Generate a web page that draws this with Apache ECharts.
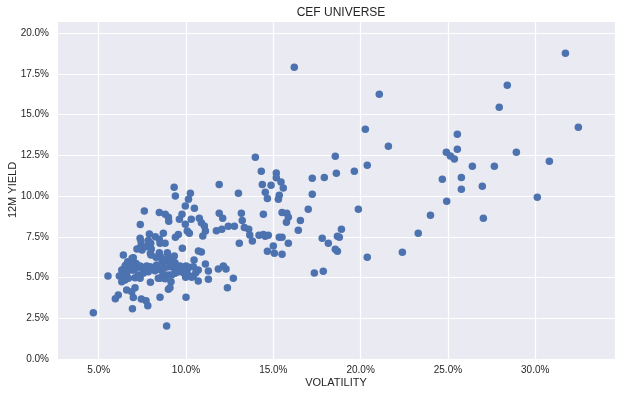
<!DOCTYPE html>
<html>
<head>
<meta charset="utf-8">
<script src="https://cdn.jsdelivr.net/npm/echarts@6/dist/echarts.min.js"></script>
<style>
html,body{margin:0;padding:0;background:#fff;}
#chart{width:621px;height:395px;}
</style>
</head>
<body>
<div id="chart"></div>
<script>
// Volatility (%) and 12M yield (%) per closed-end fund
const volatility = [
16.20,21.07,20.27,21.59,13.97,18.55,20.38,14.31,15.17,15.17,18.61,19.64,17.23,17.92,15.44,14.37,14.87,15.57,11.90,14.54,
15.34,15.29,14.66,13.00,17.23,19.87,17.00,13.17,14.43,15.50,15.77,15.86,15.75,16.55,13.22,11.90,12.10,12.42,12.77,12.05,
13.34,13.59,13.65,13.80,13.05,14.18,14.43,14.71,14.54,15.34,15.50,15.86,15.00,14.66,15.06,15.50,16.43,17.80,18.15,18.90,
18.67,18.78,18.55,18.67,20.38,22.39,23.30,17.35,17.86,12.71,12.37,
31.73,28.40,27.94,32.47,25.54,25.54,24.91,25.14,25.37,28.92,30.81,26.40,27.66,25.77,24.68,26.97,25.77,24.93,30.12,24.00,27.03,
9.32,9.39,10.25,10.14,9.96,10.48,7.61,8.47,8.81,8.99,9.01,9.77,9.62,10.30,9.96,10.76,10.88,11.05,7.38,11.11,
10.96,11.74,10.07,10.19,9.56,9.39,8.70,7.90,8.24,8.47,8.80,7.37,7.42,7.42,7.19,7.48,7.69,7.96,8.01,8.47,
8.57,8.93,8.99,9.33,9.79,10.71,10.88,10.46,11.11,12.14,11.85,12.29,11.28,11.28,9.66,10.00,9.79,10.07,9.98,10.70,
10.42,9.18,9.37,9.14,8.99,8.51,8.67,8.51,10.00,8.89,7.96,7.75,7.94,8.17,8.32,8.51,7.48,7.29,7.02,7.33,
7.08,7.37,6.41,6.56,6.66,6.83,6.98,7.14,6.41,6.91,6.79,6.60,6.37,6.18,6.51,6.32,5.53,6.60,7.08,6.89,
6.12,5.95,6.98,7.44,7.71,7.81,6.93,4.69,7.84,7.98,8.51,7.99,8.28,8.85,8.70,9.12,9.37,10.17,10.70,10.42,
8.61,6.51,6.32,6.60,6.89,7.75,8.41,8.76,9.08,9.47,7.27,7.55,7.84,8.22,8.99,9.37,6.70,7.37,8.41,8.80,
9.08,9.56,9.85,10.56,10.33
];
const yield12m = [
17.91,16.25,14.10,13.06,12.38,12.44,11.89,11.52,11.42,11.13,11.40,11.52,11.09,11.15,10.87,10.72,10.66,10.50,10.72,10.23,
10.05,9.80,9.86,10.17,10.11,9.19,9.19,8.94,8.88,9.00,8.94,8.70,8.39,8.51,8.51,8.94,8.64,8.15,8.15,7.96,
8.08,7.96,7.61,7.24,7.10,7.59,7.65,7.59,7.53,7.47,7.47,7.10,6.94,6.61,6.49,6.43,7.90,7.41,7.10,7.96,
7.53,7.47,6.73,6.61,6.24,6.55,7.72,5.28,5.38,4.95,4.38,
18.77,16.80,15.45,14.22,13.79,12.87,12.69,12.46,12.28,12.69,12.14,11.83,11.83,11.15,11.03,10.60,10.42,9.68,9.93,8.82,8.64,
10.54,10.01,10.17,9.80,9.39,9.25,9.09,9.00,8.88,8.70,8.45,8.88,8.58,8.58,8.27,8.64,8.37,8.16,8.25,7.86,
7.55,7.88,7.86,7.72,7.65,7.47,7.72,7.67,7.51,7.35,7.10,7.41,7.24,6.96,6.75,6.69,6.89,6.49,6.75,6.53,
6.24,6.53,6.24,6.32,6.80,6.63,6.57,6.08,5.83,5.71,5.52,5.52,5.40,4.89,5.71,5.71,5.50,5.26,5.02,4.79,
5.09,5.16,5.50,4.75,4.28,4.95,5.16,3.79,3.79,2.03,4.71,5.46,5.66,5.63,5.77,5.50,5.63,5.63,5.46,5.05,
4.99,5.71,5.50,5.77,5.97,5.91,6.22,5.87,6.38,6.18,5.71,5.30,5.20,5.09,4.85,4.75,5.09,4.24,4.38,4.13,
3.93,3.70,3.78,3.68,3.58,3.27,3.09,2.84,7.27,7.10,7.10,6.38,6.24,6.02,5.94,6.08,5.91,5.63,5.46,5.66,
6.12,5.71,5.46,5.57,5.46,5.71,5.71,5.57,5.67,5.67,5.16,5.26,5.36,5.42,5.16,5.26,4.95,4.95,4.95,4.93,
4.38,5.36,5.30,5.30,5.02
];
const titleText = 'CEF UNIVERSE';
const xAxisTitle = 'VOLATILITY';
const yAxisTitle = '12M YIELD';

const points = volatility.map((v, i) => [v, yield12m[i]]);
const font = "'Liberation Sans', Arial, sans-serif";
const chart = echarts.init(document.getElementById('chart'), null, {renderer: 'canvas'});
chart.setOption({
  backgroundColor: '#ffffff',
  animation: false,
  title: {
    text: titleText, left: 336, top: 2, textAlign: 'center',
    textStyle: {fontFamily: font, fontSize: 12, fontWeight: 'normal', color: '#262626'}
  },
  grid: {left: 57, right: 6, top: 21, bottom: 36, show: true, backgroundColor: '#EAEAF2', borderWidth: 0,
    containLabel: false, outerBoundsMode: 'none'},
  xAxis: {
    type: 'value', min: 2.61, max: 34.57,
    name: xAxisTitle, nameLocation: 'middle', nameGap: 18, nameMoveOverlap: false,
    nameTextStyle: {fontFamily: font, fontSize: 11, color: '#262626'},
    axisLine: {show: false}, axisTick: {show: false},
    axisLabel: {fontFamily: font, fontSize: 10, color: '#262626', margin: 6,
      showMinLabel: false, showMaxLabel: false,
      formatter: v => v.toFixed(1) + '%'},
    splitLine: {show: true, lineStyle: {color: '#ffffff', width: 1.2}}
  },
  yAxis: {
    type: 'value', min: 0, max: 20.75, interval: 2.5,
    name: yAxisTitle, nameLocation: 'middle', nameGap: 39, nameRotate: 90, nameMoveOverlap: false,
    nameTextStyle: {fontFamily: font, fontSize: 11, color: '#262626'},
    axisLine: {show: false}, axisTick: {show: false},
    axisLabel: {fontFamily: font, fontSize: 10, color: '#262626', margin: 8,
      showMaxLabel: false,
      formatter: v => v.toFixed(1) + '%'},
    splitLine: {show: true, lineStyle: {color: '#ffffff', width: 1.2}}
  },
  series: [{
    type: 'scatter', data: points, symbol: 'circle', symbolSize: 7.5,
    itemStyle: {color: '#4C72B0', opacity: 1}
  }]
});
</script>
</body>
</html>
